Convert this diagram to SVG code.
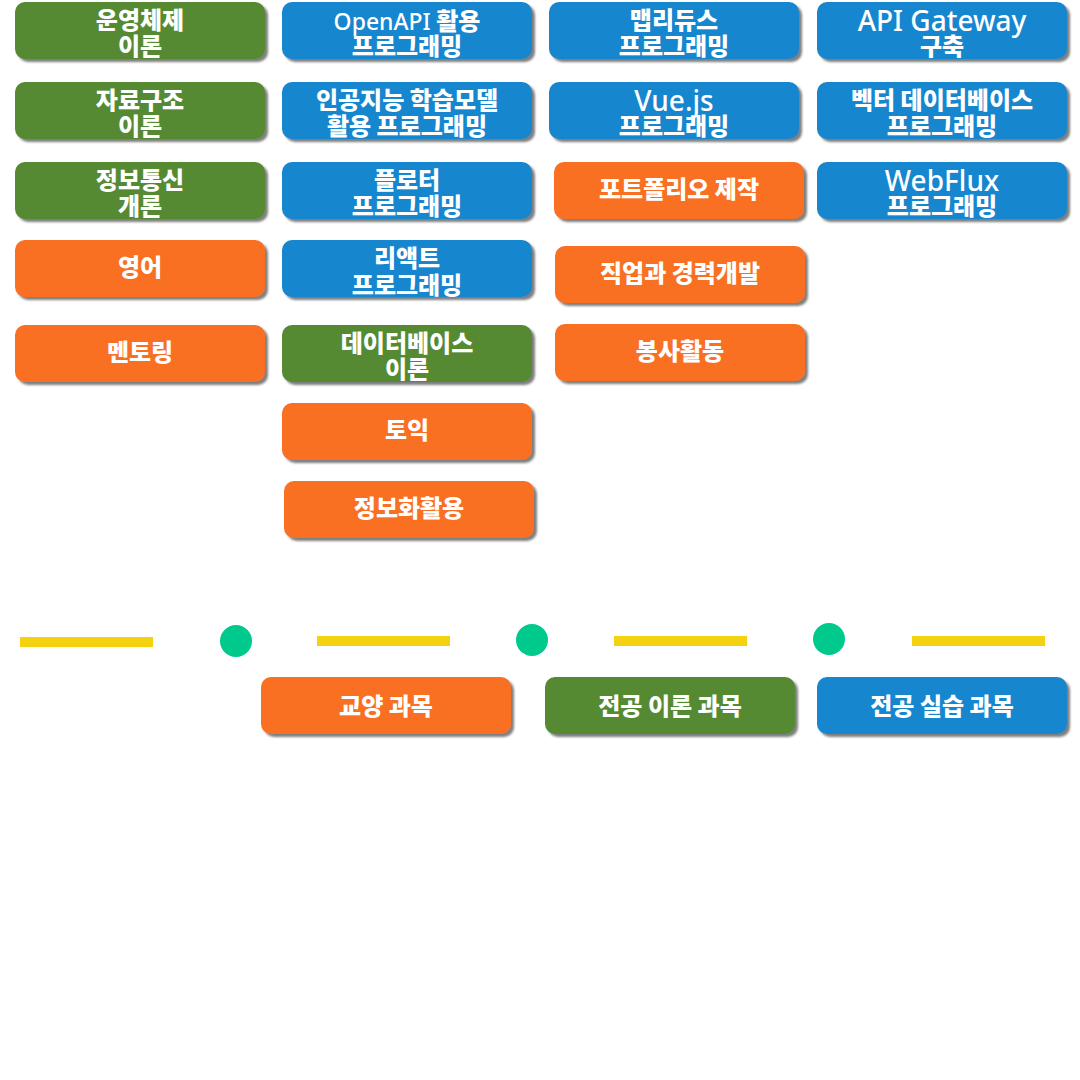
<svg xmlns="http://www.w3.org/2000/svg" width="1080" height="1080" viewBox="0 0 1080 1080">
<defs>
<filter id="sh" x="-5%" y="-10%" width="115%" height="130%">
<feDropShadow dx="3" dy="3" stdDeviation="1" flood-color="#555" flood-opacity="0.75"/>
</filter>
</defs>
<style>
.b{filter:url(#sh)}
.g{fill:#578a33}
.u{fill:#1686cf}
.o{fill:#f96f20}
text{font-family:"Noto Sans CJK KR","Noto Sans",sans-serif;font-size:24px;font-weight:900;fill:#fff;text-anchor:middle}
.l{font-family:"Noto Sans","Noto Sans CJK KR",sans-serif;font-weight:500;font-size:28px}
.ls{font-size:23px}
.bar{fill:#f4d20f}
.dot{fill:#00c98d}
</style>
<rect width="1080" height="1080" fill="#fff"/>

<g id="n-os"><rect class="b g" x="15" y="2" width="250" height="57" rx="10"/><text x="140" y="29">운영체제<tspan x="140" dy="26">이론</tspan></text></g>
<g id="n-ds"><rect class="b g" x="15" y="82" width="250" height="57" rx="10"/><text x="140" y="109">자료구조<tspan x="140" dy="26">이론</tspan></text></g>
<g id="n-net"><rect class="b g" x="15" y="162" width="250" height="57" rx="10"/><text x="140" y="189">정보통신<tspan x="140" dy="26">개론</tspan></text></g>
<g id="n-eng"><rect class="b o" x="15" y="240" width="250" height="57" rx="10"/><text x="140" y="276">영어</text></g>
<g id="n-mentor"><rect class="b o" x="15" y="325" width="250" height="57" rx="10"/><text x="140" y="361">멘토링</text></g>

<g id="n-openapi"><rect class="b u" x="282" y="2" width="250" height="57" rx="10"/><text x="407" y="30"><tspan class="l ls">OpenAPI</tspan> 활용<tspan x="407" dy="25">프로그래밍</tspan></text></g>
<g id="n-ai"><rect class="b u" x="282" y="82" width="250" height="57" rx="10"/><text x="407" y="109">인공지능 학습모델<tspan x="407" dy="26">활용 프로그래밍</tspan></text></g>
<g id="n-flutter"><rect class="b u" x="282" y="162" width="250" height="57" rx="10"/><text x="407" y="189">플로터<tspan x="407" dy="26">프로그래밍</tspan></text></g>
<g id="n-react"><rect class="b u" x="282" y="240" width="250" height="57" rx="10"/><text x="407" y="267">리액트<tspan x="407" dy="27">프로그래밍</tspan></text></g>
<g id="n-db"><rect class="b g" x="282" y="325" width="250" height="57" rx="10"/><text x="407" y="352">데이터베이스<tspan x="407" dy="26">이론</tspan></text></g>
<g id="n-toeic"><rect class="b o" x="282" y="403" width="250" height="57" rx="10"/><text x="407" y="439">토익</text></g>
<g id="n-info"><rect class="b o" x="284" y="481" width="250" height="57" rx="10"/><text x="409" y="517">정보화활용</text></g>

<g id="n-mr"><rect class="b u" x="549" y="2" width="250" height="57" rx="10"/><text x="674" y="29">맵리듀스<tspan x="674" dy="26">프로그래밍</tspan></text></g>
<g id="n-vue"><rect class="b u" x="549" y="82" width="250" height="57" rx="10"/><text x="674" y="111"><tspan class="l">Vue.js</tspan><tspan x="674" dy="24">프로그래밍</tspan></text></g>
<g id="n-pf"><rect class="b o" x="554" y="162" width="250" height="57" rx="10"/><text x="679" y="198">포트폴리오 제작</text></g>
<g id="n-career"><rect class="b o" x="555" y="246" width="250" height="57" rx="10"/><text x="680" y="282">직업과 경력개발</text></g>
<g id="n-vol"><rect class="b o" x="555" y="324" width="250" height="57" rx="10"/><text x="680" y="360">봉사활동</text></g>

<g id="n-gw"><rect class="b u" x="817" y="2" width="250" height="57" rx="10"/><text x="942" y="31"><tspan class="l">API Gateway</tspan><tspan x="942" dy="24">구축</tspan></text></g>
<g id="n-vdb"><rect class="b u" x="817" y="82" width="250" height="57" rx="10"/><text x="942" y="109">벡터 데이터베이스<tspan x="942" dy="26">프로그래밍</tspan></text></g>
<g id="n-wf"><rect class="b u" x="817" y="162" width="250" height="57" rx="10"/><text x="942" y="191"><tspan class="l">WebFlux</tspan><tspan x="942" dy="24">프로그래밍</tspan></text></g>

<g id="timeline">
<rect class="bar" x="20" y="637" width="133" height="10"/>
<rect class="bar" x="317" y="636" width="133" height="10"/>
<rect class="bar" x="614" y="636" width="133" height="10"/>
<rect class="bar" x="912" y="636" width="133" height="10"/>
<circle class="dot" cx="236" cy="641" r="16"/>
<circle class="dot" cx="532" cy="640" r="16"/>
<circle class="dot" cx="829" cy="639" r="16"/>
</g>

<g id="legend-general"><rect class="b o" x="261" y="677" width="250" height="57" rx="10"/><text x="386" y="715">교양 과목</text></g>
<g id="legend-theory"><rect class="b g" x="545" y="677" width="250" height="57" rx="10"/><text x="670" y="715">전공 이론 과목</text></g>
<g id="legend-practice"><rect class="b u" x="817" y="677" width="250" height="57" rx="10"/><text x="942" y="715">전공 실습 과목</text></g>
</svg>
